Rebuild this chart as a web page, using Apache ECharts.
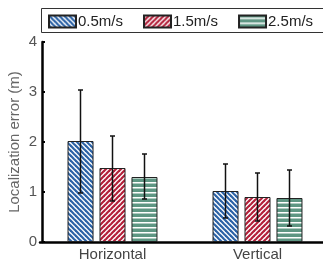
<!DOCTYPE html>
<html>
<head>
<meta charset="utf-8">
<script src="https://cdn.jsdelivr.net/npm/echarts@6/dist/echarts.min.js"></script>
<style>
html,body{margin:0;padding:0;background:#fff;}
#chart{width:323px;height:263px;}
</style>
</head>
<body>
<div id="chart"></div>
<script>
// data
var categories = ['Horizontal', 'Vertical'];
var seriesNames = ['0.5m/s', '1.5m/s', '2.5m/s'];
var mean05 = [2.02, 1.02];
var mean15 = [1.48, 0.90];
var mean25 = [1.30, 0.88];
var low05 = [0.98, 0.48];
var high05 = [3.04, 1.56];
var low15 = [0.82, 0.42];
var high15 = [2.12, 1.38];
var low25 = [0.86, 0.32];
var high25 = [1.76, 1.44];
var yTicks = [0, 1, 2, 3, 4];

// hatch patterns
function diagPattern(color, dir) {
    var s = 5;
    var c = document.createElement('canvas');
    c.width = s; c.height = s;
    var ctx = c.getContext('2d');
    ctx.fillStyle = '#fff';
    ctx.fillRect(0, 0, s, s);
    ctx.strokeStyle = color;
    ctx.lineWidth = 2.2;
    for (var k = -1; k <= 1; k++) {
        ctx.beginPath();
        if (dir > 0) {          // "\\"
            ctx.moveTo(k * s - 1, -1);
            ctx.lineTo(k * s + s + 1, s + 1);
        } else {                // "//"
            ctx.moveTo(k * s - 1, s + 1);
            ctx.lineTo(k * s + s + 1, -1);
        }
        ctx.stroke();
    }
    return {image: c, repeat: 'repeat'};
}
function horizPattern(color) {
    var c = document.createElement('canvas');
    c.width = 5; c.height = 5;
    var ctx = c.getContext('2d');
    ctx.fillStyle = color;
    ctx.fillRect(0, 0, 5, 5);
    ctx.fillStyle = '#fff';
    ctx.fillRect(0, 2, 5, 1.5);
    return {image: c, repeat: 'repeat'};
}

var fills = [diagPattern('#2b62a6', 1), diagPattern('#b3203a', -1), horizPattern('#5e9683')];
var means = [mean05, mean15, mean25];
var lows = [low05, low15, low25];
var highs = [high05, high15, high25];

var chart = echarts.init(document.getElementById('chart'));

var series = [];
for (var i = 0; i < 3; i++) {
    series.push({
        name: seriesNames[i],
        type: 'bar',
        barWidth: 26,
        barGap: '23%',
        data: means[i],
        itemStyle: {
            color: fills[i],
            borderColor: '#222',
            borderWidth: 1
        }
    });
}
// error bars
for (var j = 0; j < 3; j++) {
    (function (j) {
        var errData = categories.map(function (c, k) { return [k, lows[j][k], highs[j][k]]; });
        series.push({
            type: 'custom',
            name: 'err' + j,
            z: 10,
            data: errData,
            renderItem: function (params, api) {
                var off = (j - 1) * 32;
                var lo = api.coord([api.value(0), api.value(1)]);
                var hi = api.coord([api.value(0), api.value(2)]);
                var x = lo[0] + off;
                var st = {stroke: '#111', lineWidth: 1.5};
                return {
                    type: 'group',
                    children: [
                        {type: 'line', shape: {x1: x, y1: lo[1], x2: x, y2: hi[1]}, style: st},
                        {type: 'line', shape: {x1: x - 2.5, y1: lo[1], x2: x + 2.5, y2: lo[1]}, style: st},
                        {type: 'line', shape: {x1: x - 2.5, y1: hi[1], x2: x + 2.5, y2: hi[1]}, style: st}
                    ]
                };
            }
        });
    })(j);
}

var option = {
    animation: false,
    textStyle: {fontFamily: 'Liberation Sans, Arial, sans-serif'},
    graphic: [{
        type: 'rect',
        shape: {x: 41.5, y: 8.5, width: 300, height: 24},
        style: {fill: 'none', stroke: '#333', lineWidth: 1}
    }],
    legend: {
        data: seriesNames,
        left: 48,
        top: 14,
        padding: 0,
        icon: 'rect',
        itemWidth: 27,
        itemHeight: 12,
        itemGap: 20,
        textStyle: {fontSize: 15, color: '#222', padding: [0, 0, 0, -3]}
    },
    grid: {left: 40, top: 42, width: 290, height: 200, outerBoundsMode: 'none', containLabel: false},
    xAxis: {
        type: 'category',
        data: categories,
        axisLine: {lineStyle: {color: '#000', width: 2.5}},
        axisTick: {show: false},
        axisLabel: {fontSize: 15, color: '#444', margin: 5}
    },
    yAxis: {
        type: 'value',
        offset: -2,
        min: yTicks[0],
        max: yTicks[yTicks.length - 1],
        interval: 1,
        name: 'Localization error (m)',
        nameLocation: 'middle',
        nameGap: 20,
        nameMoveOverlap: false,
        nameTextStyle: {fontSize: 15, color: '#666'},
        axisLine: {show: true, lineStyle: {color: '#000', width: 2.5}},
        axisTick: {show: true, inside: true, length: 3, lineStyle: {color: '#000', width: 2}},
        axisLabel: {fontSize: 15, color: '#555', margin: 5},
        splitLine: {show: false}
    },
    series: series
};
chart.setOption(option);
</script>
</body>
</html>
